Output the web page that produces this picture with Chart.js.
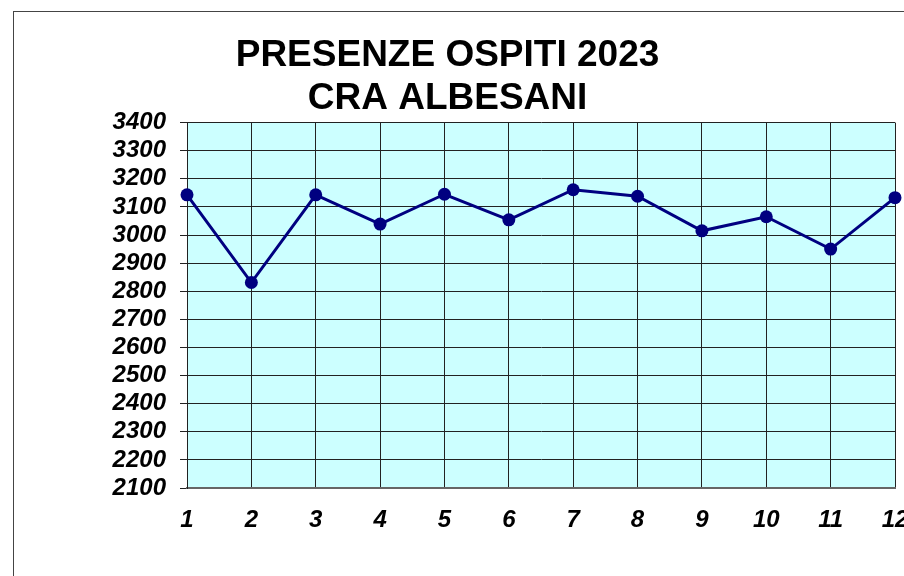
<!DOCTYPE html>
<html>
<head>
<meta charset="utf-8">
<script src="https://cdn.jsdelivr.net/npm/chart.js@4/dist/chart.umd.min.js"></script>
<style>
  html, body { margin: 0; padding: 0; background: #fff; overflow: hidden; }
</style>
</head>
<body>
<canvas id="line-chart" width="904" height="576"></canvas>
<script>
// dati
var mesi = ["1","2","3","4","5","6","7","8","9","10","11","12"];
var presenze = [3143,2831,3143,3039,3145,3054,3161,3138,3015,3065,2950,3133];
var titolo = ["PRESENZE OSPITI 2023","CRA ALBESANI"];
var yMin = 2100, yMax = 3400, yStep = 100;

var blu = "#000080";
var fontTick = { family: "'Liberation Sans', Arial, sans-serif", size: 24, weight: "bold", style: "italic" };

// sfondo azzurro dell'area grafico + cornice esterna
var sfondo = {
    id: "sfondo",
    beforeDraw: function(chart){
        var c = chart.ctx, a = chart.chartArea;
        c.save();
        c.strokeStyle = "#444";
        c.lineWidth = 1;
        c.strokeRect(13.5, 11.5, 1200, 1200);
        c.fillStyle = "#CCFFFF";
        c.fillRect(a.left, a.top, a.right - a.left, a.bottom - a.top);
        c.restore();
    }
};

var ctx = document.getElementById("line-chart");
var chartGraph = new Chart(ctx,{
    type: 'line',
    data:{
        labels: mesi,
        datasets:[{
            label: titolo[0],
            data: presenze,
            borderColor: blu,
            backgroundColor: blu,
            borderWidth: 3,
            pointRadius: 6.5,
            pointBackgroundColor: blu,
            pointBorderColor: blu,
            pointBorderWidth: 0,
            tension: 0,
            clip: false
        }]
    },
    options: {
        responsive: false,
        animation: false,
        layout: { padding: { left: 0, right: 9, top: 0, bottom: 0 } },
        plugins: {
            legend: { display: false },
            tooltip: { enabled: false },
            title: {
                display: true,
                text: titolo,
                color: "#000",
                font: { family: "'Liberation Sans', Arial, sans-serif", size: 37, weight: "bold", lineHeight: 1.17 },
                padding: { top: 34, bottom: 2 }
            }
        },
        scales: {
            x: {
                offset: false,
                grid: { color: "#222", lineWidth: 1, drawTicks: false },
                border: { color: "#666", width: 2 },
                ticks: {
                    color: "#000",
                    padding: 18,
                    maxRotation: 0,
                    autoSkip: false,
                    font: fontTick
                },
                afterFit: function(scale){
                    scale.height = 88;
                    scale.paddingLeft = 0;
                    scale.paddingRight = 0;
                }
            },
            y: {
                min: yMin,
                max: yMax,
                grid: { color: "#222", lineWidth: 1, tickLength: 7 },
                border: { color: "#222", width: 1 },
                ticks: {
                    stepSize: yStep,
                    autoSkip: false,
                    color: "#000",
                    padding: 14,
                    font: fontTick,
                    callback: function(v){ return String(v); }
                },
                afterFit: function(scale){
                    scale.width = 187;
                    scale.paddingTop = 0;
                    scale.paddingBottom = 0;
                }
            }
        }
    },
    plugins: [sfondo]
})
</script>
</body>
</html>
